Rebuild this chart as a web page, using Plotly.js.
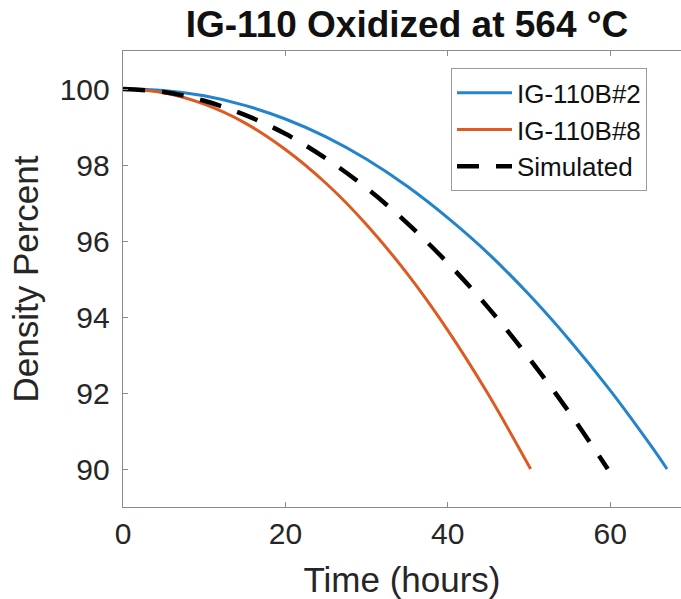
<!DOCTYPE html>
<html>
<head>
<meta charset="utf-8">
<script src="https://cdn.plot.ly/plotly-3.0.1.min.js"></script>
<style>html,body{margin:0;padding:0;background:#fff;}#chart{width:681px;height:599px;}</style>
</head>
<body>
<div id="chart"></div>
<script>
// Data
const timeB2 = [0, 5, 10, 15, 20, 25, 30, 35, 40, 45, 50, 55, 60, 65, 67];
const densB2 = [100, 99.96, 99.82, 99.57, 99.21, 98.74, 98.15, 97.44, 96.61, 95.67, 94.59, 93.39, 92.07, 90.62, 90.0];

const timeB8 = [0, 5, 10, 15, 20, 25, 30, 35, 40, 45, 50.2];
const densB8 = [100, 99.90, 99.60, 99.11, 98.41, 97.52, 96.43, 95.14, 93.65, 91.96, 90.0];

const timeSim = [0, 5, 10, 15, 20, 25, 30, 35, 40, 45, 50, 55, 59.7];
const densSim = [100, 99.92, 99.69, 99.32, 98.82, 98.17, 97.39, 96.47, 95.42, 94.24, 92.92, 91.48, 90.0];

const seriesNames = ['IG-110B#2', 'IG-110B#8', 'Simulated'];
const xTicks = [0, 20, 40, 60];
const yTicks = [90, 92, 94, 96, 98, 100];

const FONT = 'Liberation Sans, Arial, Helvetica, sans-serif';
const AX = '#8a8a8a';
const TXT = '#262626';

const traces = [
  {x: timeB2, y: densB2, name: seriesNames[0], mode: 'lines', line: {color: '#2484cb', width: 3, shape: 'spline'}},
  {x: timeB8, y: densB8, name: seriesNames[1], mode: 'lines', line: {color: '#dd5a22', width: 3, shape: 'spline'}},
  {x: timeSim, y: densSim, name: seriesNames[2], mode: 'lines', line: {color: '#000000', width: 4.5, dash: '22px,17px', shape: 'spline'}}
];

const layout = {
  width: 681, height: 599,
  margin: {l: 123, r: 0, t: 51, b: 92, pad: 0},
  paper_bgcolor: '#ffffff', plot_bgcolor: '#ffffff',
  font: {family: FONT, color: TXT},
  title: {text: 'IG-110 Oxidized at 564 °C', font: {family: FONT, size: 37, color: '#111', weight: 'bold'},
          x: 407/681, xref: 'container', xanchor: 'center', y: 1 - 24/599, yref: 'container', yanchor: 'middle'},
  xaxis: {
    range: [0, 68.72], tickvals: xTicks, ticktext: xTicks.map(String),
    showgrid: false, zeroline: false, showline: true, linecolor: AX, linewidth: 1.3,
    mirror: 'allticks', ticks: 'inside', ticklen: 5, tickcolor: AX, tickwidth: 1,
    tickfont: {size: 30, color: TXT, family: FONT}, ticklabelstandoff: 0,
    title: {text: 'Time (hours)', font: {size: 35, color: TXT, family: FONT}, standoff: 18}
  },
  yaxis: {
    range: [89, 101], tickvals: yTicks, ticktext: yTicks.map(String),
    showgrid: false, zeroline: false, showline: true, linecolor: AX, linewidth: 1.3,
    mirror: false, ticks: 'inside', ticklen: 5, tickcolor: AX, tickwidth: 1,
    tickfont: {size: 30, color: TXT, family: FONT}, ticklabelstandoff: 6,
    title: {text: 'Density Percent', font: {size: 35, color: TXT, family: FONT}, standoff: 10}
  },
  showlegend: true,
  legend: {
    x: (451-123)/558, y: (506.7-68)/456, xanchor: 'left', yanchor: 'top',
    bgcolor: '#ffffff', bordercolor: '#9a9a9a', borderwidth: 1,
    font: {size: 26, color: '#111', family: FONT}, itemwidth: 55, tracegroupgap: 0
  }
};

Plotly.newPlot('chart', traces, layout, {staticPlot: true, displayModeBar: false});
</script>
</body>
</html>
